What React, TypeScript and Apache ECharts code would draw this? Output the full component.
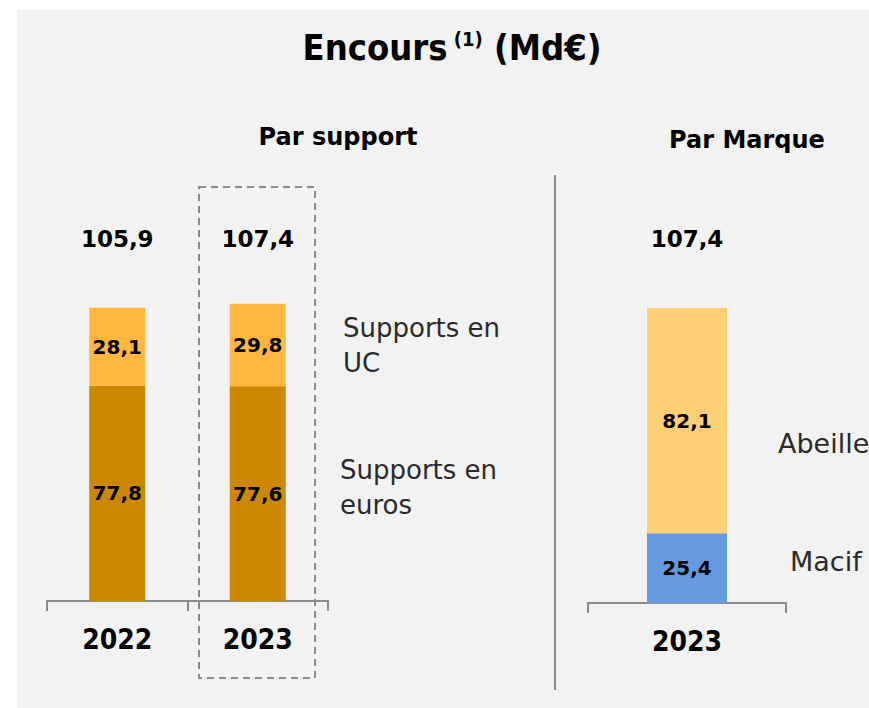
import React, { useEffect, useRef } from "react";
import * as echarts from "echarts";

const yearsSupport = ["2022", "2023"];
const eurosValues = [77.8, 77.6];
const ucValues = [28.1, 29.8];
const supportTotals = [105.9, 107.4];

const yearsMarque = ["2023"];
const macifValues = [25.4];
const abeilleValues = [82.1];
const marqueTotals = [107.4];

const fmt = (v: number) => v.toFixed(1).replace(".", ",");

const BOLD = "'DejaVu Sans', sans-serif";
const NARROW = "'Liberation Sans Narrow', 'DejaVu Sans Condensed', 'Liberation Sans', sans-serif";
const LIGHT = "'DejaVu Sans', sans-serif";

export default function App() {
  const ref = useRef<HTMLDivElement>(null);
  useEffect(() => {
    document.body.style.margin = "0";
    const chart = echarts.init(ref.current!, null, { renderer: "svg" });
    const valueLabel = {
      show: true,
      position: "inside",
      color: "#000",
      fontFamily: BOLD,
      fontWeight: "bold",
      fontSize: 20,
      formatter: (p: any) => fmt(p.value),
    };
    const catAxisCommon = {
      type: "category",
      axisLine: { lineStyle: { color: "#8c8c8c", width: 2 } },
      axisTick: { show: true, length: 10, lineStyle: { color: "#8c8c8c", width: 2 } },
      axisLabel: { color: "#000", fontFamily: NARROW, fontWeight: "bold", fontSize: 28, margin: 24 },
    };
    const totalAxisCommon = {
      type: "category",
      position: "top",
      axisLine: { show: false },
      axisTick: { show: false },
      axisLabel: { color: "#000", fontFamily: BOLD, fontWeight: "bold", fontSize: 23, margin: 5 },
    };
    chart.setOption({
      animation: false,
      backgroundColor: "#ffffff",
      grid: [
        { left: 47, width: 281, top: 255, height: 346 },
        { left: 588, width: 198, top: 260, height: 343 },
      ],
      xAxis: [
        { ...catAxisCommon, gridIndex: 0, data: yearsSupport },
        { ...totalAxisCommon, gridIndex: 0, data: supportTotals.map(fmt) },
        { ...catAxisCommon, gridIndex: 1, data: yearsMarque },
        { ...totalAxisCommon, gridIndex: 1, data: marqueTotals.map(fmt), axisLabel: { ...totalAxisCommon.axisLabel, margin: 10 } },
      ],
      yAxis: [
        { type: "value", gridIndex: 0, min: 0, max: 125, show: false },
        { type: "value", gridIndex: 1, min: 0, max: 125, show: false },
      ],
      series: [
        { type: "bar", name: "Supports en euros", xAxisIndex: 0, yAxisIndex: 0, stack: "s", barWidth: 56, data: eurosValues, itemStyle: { color: "#CC8800" }, label: valueLabel },
        { type: "bar", name: "Supports en UC", xAxisIndex: 0, yAxisIndex: 0, stack: "s", barWidth: 56, data: ucValues, itemStyle: { color: "#FFB83D" }, label: valueLabel },
        { type: "bar", name: "Macif", xAxisIndex: 2, yAxisIndex: 1, stack: "m", barWidth: 80, data: macifValues, itemStyle: { color: "#6699DD" }, label: valueLabel },
        { type: "bar", name: "Abeille", xAxisIndex: 2, yAxisIndex: 1, stack: "m", barWidth: 80, data: abeilleValues, itemStyle: { color: "#FFCF78" }, label: valueLabel },
      ],
      graphic: [
        { type: "rect", z: -10, silent: true, shape: { x: 17, y: 10, width: 860, height: 710 }, style: { fill: "#f2f2f2" } },
        {
          type: "text", x: 452, y: 47,
          style: {
            text: "{a|Encours}{s| (1)}{a| (Md€)}",
            align: "center", verticalAlign: "middle",
            rich: {
              a: { fontFamily: NARROW, fontWeight: "bold", fontSize: 36, fill: "#000" },
              s: { fontFamily: NARROW, fontWeight: "bold", fontSize: 20, fill: "#000", verticalAlign: "top", padding: [0, 0, 14, 0] },
            },
          },
        },
        { type: "text", x: 338, y: 137, style: { text: "Par support", align: "center", verticalAlign: "middle", fontFamily: BOLD, fontWeight: "bold", fontSize: 24, fill: "#000" } },
        { type: "text", x: 747, y: 140, style: { text: "Par Marque", align: "center", verticalAlign: "middle", fontFamily: BOLD, fontWeight: "bold", fontSize: 24, fill: "#000" } },
        { type: "line", shape: { x1: 555, y1: 175, x2: 555, y2: 690 }, style: { stroke: "#8c8c8c", lineWidth: 2 } },
        { type: "rect", shape: { x: 199, y: 187, width: 116, height: 491 }, style: { fill: "none", stroke: "#8c8c8c", lineWidth: 2, lineDash: [7, 5] } },
        { type: "text", x: 343, y: 345, style: { text: "Supports en\nUC", align: "left", verticalAlign: "middle", lineHeight: 35, fontFamily: LIGHT, fontSize: 26, fill: "#2a2a2a" } },
        { type: "text", x: 340, y: 487, style: { text: "Supports en\neuros", align: "left", verticalAlign: "middle", lineHeight: 35, fontFamily: LIGHT, fontSize: 26, fill: "#2a2a2a" } },
        { type: "text", x: 778, y: 443, style: { text: "Abeille", align: "left", verticalAlign: "middle", fontFamily: LIGHT, fontSize: 27, fill: "#2a2a2a" } },
        { type: "text", x: 790, y: 561, style: { text: "Macif", align: "left", verticalAlign: "middle", fontFamily: LIGHT, fontSize: 27, fill: "#2a2a2a" } },
      ],
    });
    return () => chart.dispose();
  }, []);
  return <div ref={ref} style={{ width: 869, height: 708 }} />;
}
